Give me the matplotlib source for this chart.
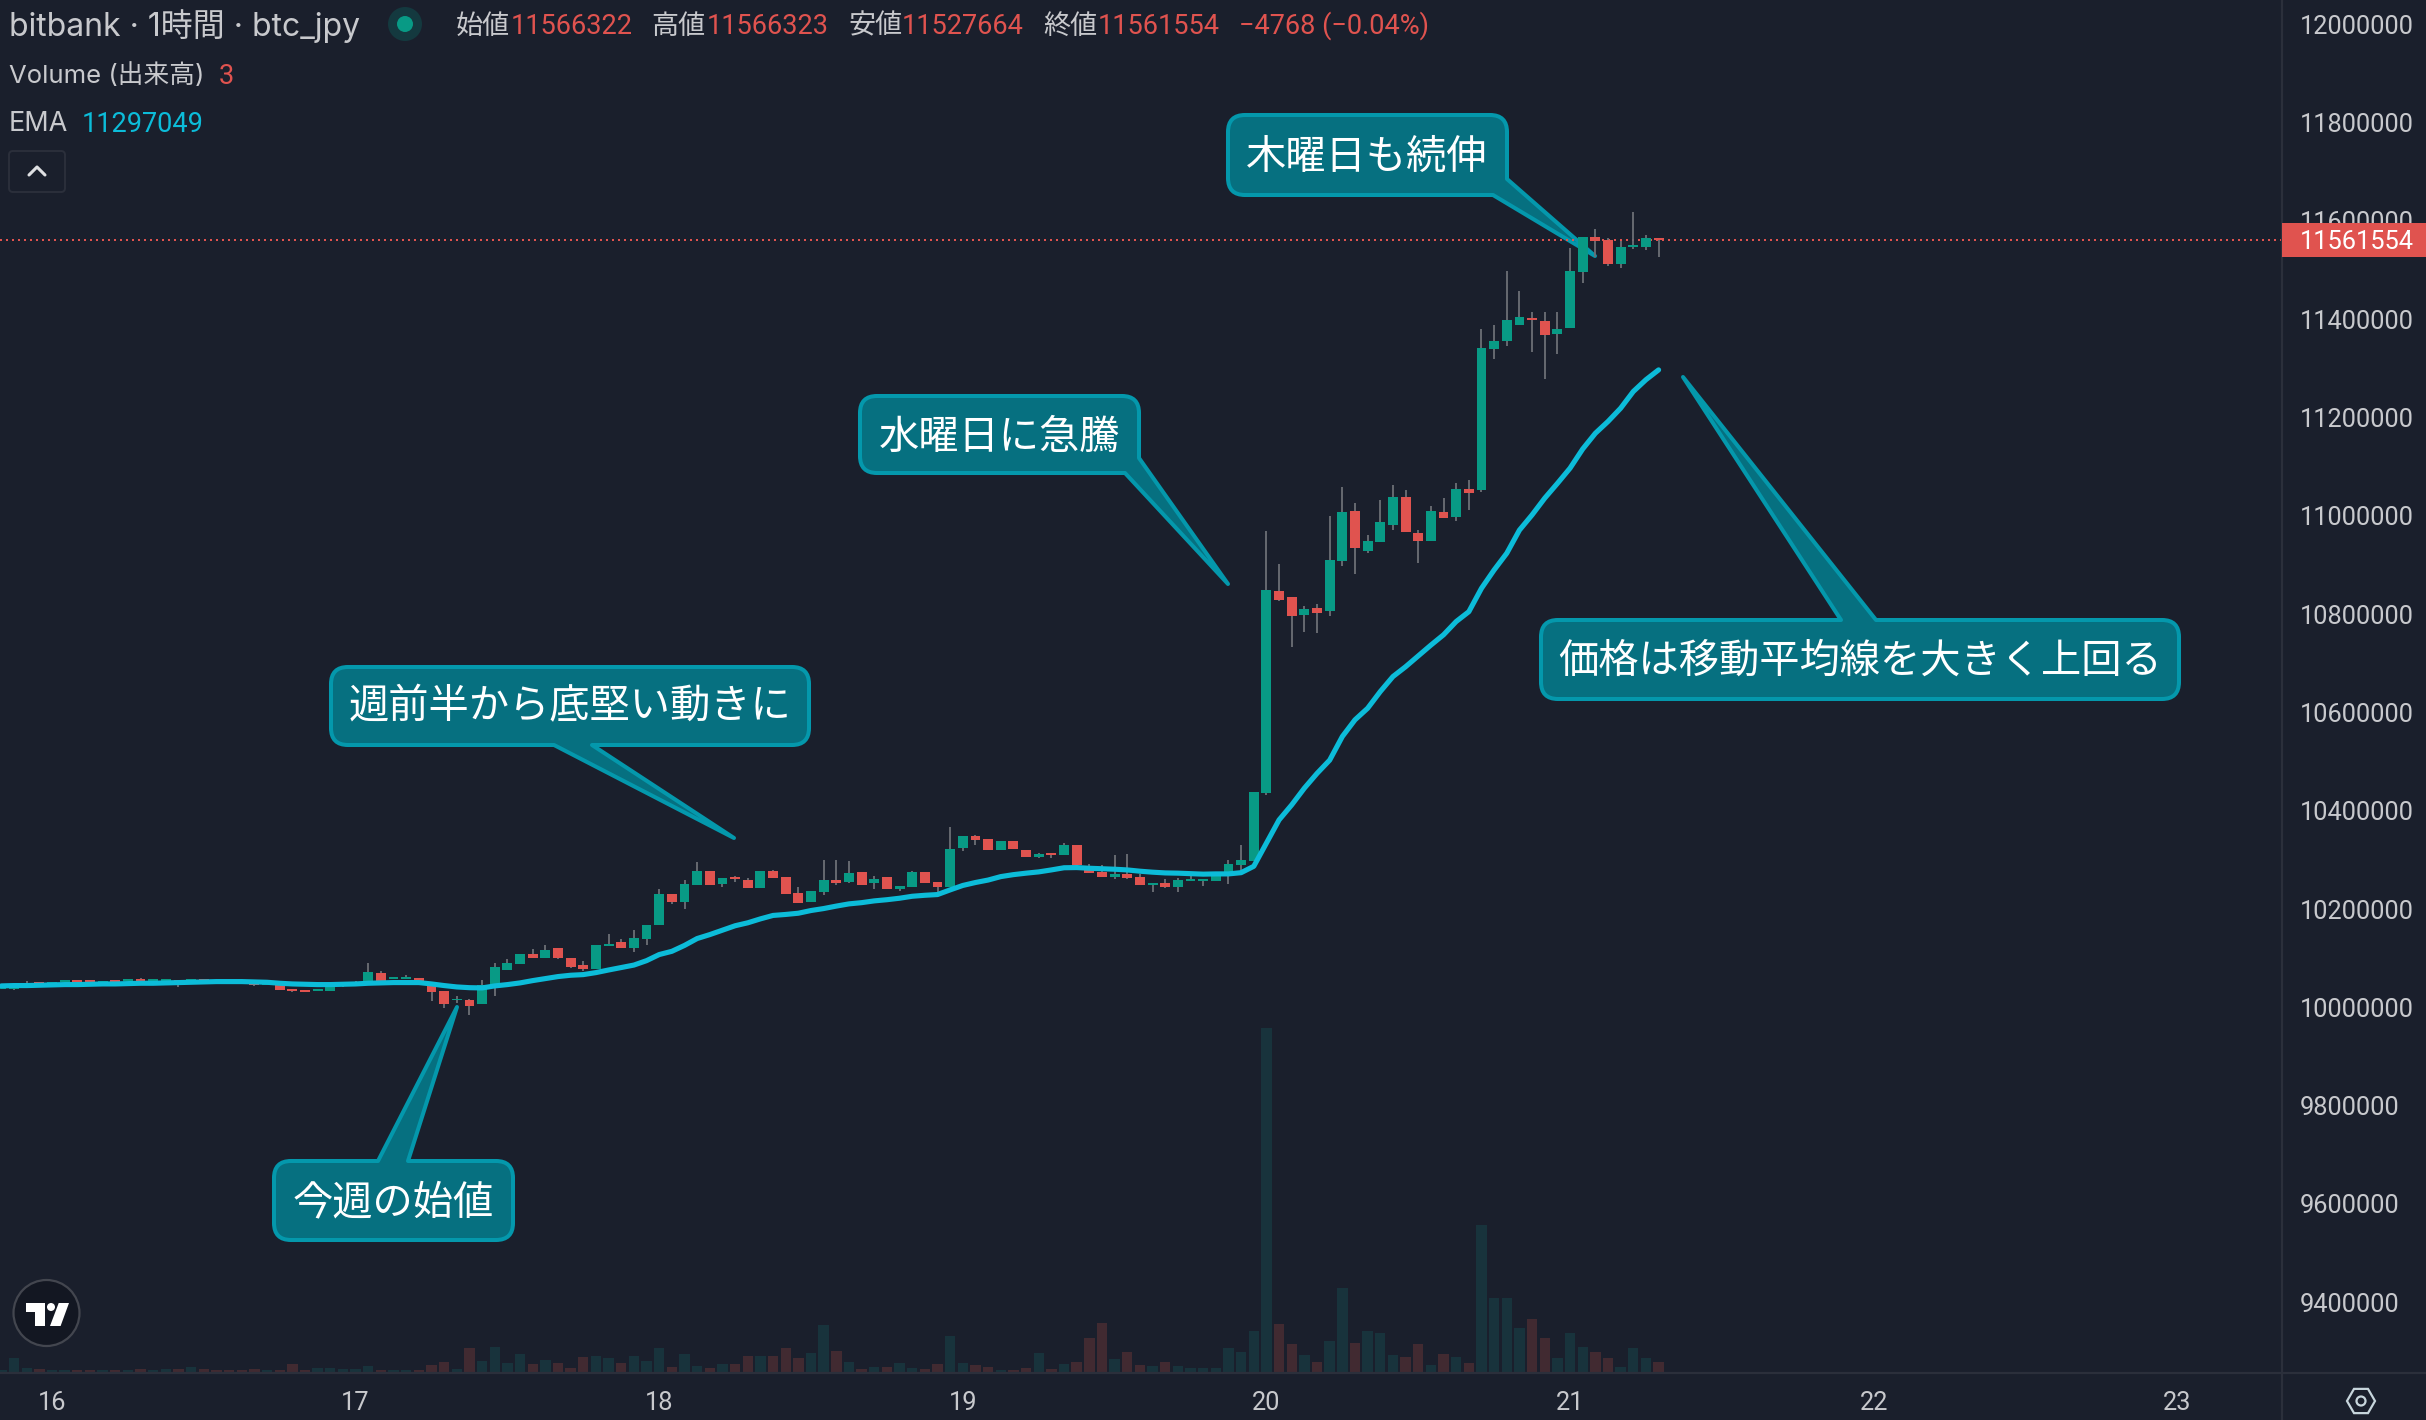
import numpy as np
import matplotlib
matplotlib.use('Agg')
import matplotlib.pyplot as plt
from matplotlib.patches import Rectangle, PathPatch, Ellipse, Polygon, RegularPolygon, FancyBboxPatch
from matplotlib.path import Path

plt.rcParams['font.family'] = ['Inter', 'Noto Sans CJK JP', 'DejaVu Sans']

# candles, thousand JPY, one per hour, first one is 4 hours before day 16
open_k = [
    10038, 10038, 10048.3, 10051, 10043.6, 10051.7, 10056, 10056, 10050.4, 10056,
    10054, 10057, 10054.4, 10054, 10056, 10049.7, 10058, 10056.5, 10056.5, 10051.7,
    10049, 10045.6, 10047.6, 10037.5, 10035.4, 10034, 10033.4, 10044, 10045.6, 10049.7,
    10070, 10058, 10058, 10060, 10045, 10033.4, 10014, 10015, 10007, 10043.6,
    10076, 10088.3, 10109, 10100.5, 10121, 10100.5, 10086.3, 10077.5, 10125, 10133,
    10121, 10139.2, 10167.7, 10230.8, 10214.5, 10249, 10277.6, 10251, 10265, 10259,
    10243, 10277.6, 10265, 10233, 10214.5, 10235, 10259, 10255, 10275.6, 10253,
    10265, 10241, 10245, 10275.6, 10255, 10245, 10324, 10349, 10343, 10320,
    10338.6, 10320, 10306, 10314, 10310, 10330.5, 10288, 10275.6, 10265, 10271.5,
    10265, 10249, 10253, 10245, 10257, 10257, 10257, 10269.5, 10290, 10298,
    10436, 10847, 10835, 10798, 10813, 10806.5, 10908, 11010, 10929, 10947,
    10981, 11038, 10965, 10949, 11008, 10998, 11055, 11053, 11340, 11356,
    11389, 11403, 11397, 11370, 11383, 11497, 11568, 11562, 11513, 11547,
    11547, 11566.3,
]
close_k = [
    10043.6, 10047.6, 10050.4, 10048.3, 10051, 10056, 10052.4, 10052.4, 10053, 10052.4,
    10058, 10054, 10058, 10058, 10045.6, 10057, 10054, 10052.4, 10052.4, 10048.3,
    10045.6, 10049.7, 10035.4, 10034, 10032, 10037.5, 10043.6, 10047.6, 10051.7, 10072,
    10052.4, 10062, 10062, 10047.6, 10031.4, 10007, 10017, 10003, 10045.6, 10082.2,
    10090.4, 10109, 10100.5, 10117, 10100.5, 10082.2, 10078, 10127, 10129, 10121,
    10141.2, 10167.6, 10230.8, 10214.5, 10251, 10277.6, 10249, 10263, 10261, 10243,
    10277.6, 10263, 10231, 10212.5, 10237, 10259, 10253, 10273.5, 10249, 10261,
    10241, 10247, 10275.6, 10253, 10245, 10322, 10349, 10341, 10320, 10338.6,
    10322, 10306, 10312, 10310, 10330.5, 10290, 10273.5, 10265, 10271.5, 10263,
    10249, 10253, 10245, 10259, 10261, 10261, 10271.5, 10292, 10300, 10438,
    10849, 10829, 10796, 10811, 10802, 10910, 11008, 10935, 10949, 10987.6,
    11038, 10967, 10949, 11010, 10996, 11055, 11046.5, 11342, 11356, 11399,
    11405, 11399, 11368, 11381, 11499, 11568, 11560, 11513, 11547, 11551.5,
    11566, 11561.6,
]
high_k = [
    10043.6, 10049.7, 10054, 10051, 10051, 10056, 10056, 10056, 10053, 10056,
    10058, 10059, 10058, 10058, 10056, 10057, 10058, 10056.5, 10056.5, 10051.7,
    10049, 10049.7, 10047.6, 10037.5, 10035.4, 10037.5, 10043.6, 10047.6, 10054, 10090.4,
    10074, 10062, 10066, 10060, 10049, 10033.4, 10023, 10017, 10056, 10090.4,
    10098.5, 10109, 10119, 10127, 10121, 10100.5, 10094.4, 10127, 10149.3, 10139.2,
    10157.5, 10167.6, 10241, 10230.8, 10259, 10296, 10277.6, 10263, 10267, 10263,
    10277.6, 10279.6, 10265, 10245, 10237, 10300, 10300, 10298, 10275.6, 10267,
    10265, 10247, 10277.6, 10275.6, 10255, 10367, 10349, 10351, 10343, 10338.6,
    10338.6, 10320, 10314, 10314, 10334.5, 10330.5, 10292, 10290, 10310, 10312,
    10271.5, 10253, 10261, 10263, 10276, 10261, 10271.5, 10300, 10330.5, 10438,
    10969, 10902, 10835, 10817, 10821, 11000, 11059, 11026, 10961, 11032,
    11063, 11053, 10971, 11020, 11036, 11067, 11073, 11381, 11389, 11499,
    11458, 11415, 11415, 11415, 11545, 11568, 11584, 11566, 11560, 11619,
    11572, 11566.3,
]
low_k = [
    10038, 10035.4, 10045.6, 10043.6, 10043.6, 10051.7, 10052.4, 10052.4, 10050.4, 10052.4,
    10054, 10054, 10054.4, 10054, 10042, 10049.7, 10054, 10052.4, 10052.4, 10048.3,
    10044, 10045.6, 10035.4, 10032, 10032, 10034, 10033.4, 10041, 10045.6, 10049.7,
    10052.4, 10058, 10058, 10047.6, 10012, 9999, 10009, 9984.6, 10007, 10023,
    10076, 10088.3, 10100.5, 10100.5, 10098.5, 10080, 10074, 10077.5, 10125, 10121,
    10113, 10127, 10167.7, 10210.5, 10200, 10249, 10249, 10245, 10255, 10243,
    10243, 10263, 10231, 10212.5, 10214.5, 10229, 10249, 10253, 10249, 10241,
    10241, 10237, 10245, 10253, 10227, 10245, 10318, 10330.5, 10320, 10320,
    10322, 10306, 10304, 10304, 10310, 10286, 10273.5, 10265, 10261, 10261,
    10249, 10235, 10243, 10235, 10257, 10247, 10257, 10251, 10273.5, 10298,
    10432, 10827, 10733, 10764, 10762, 10796, 10898, 10882, 10924.5, 10947,
    10971, 10967, 10904, 10949, 10996, 10990, 11012, 11049, 11320, 11346,
    11389, 11334, 11279, 11330, 11383, 11474, 11527, 11509, 11505, 11543,
    11541, 11527.7,
]
ema_k = [
    10043.6, 10044.3, 10044.3, 10045, 10045.6, 10046.3, 10046.3, 10047, 10047.6, 10047.6,
    10048.3, 10049, 10049, 10049.7, 10050.4, 10051, 10051.7, 10052.4, 10052.4, 10052.4,
    10051.7, 10051, 10049, 10047.6, 10047, 10046.3, 10046.3, 10047, 10047.6, 10049,
    10049.7, 10050.4, 10050.4, 10050.4, 10047.6, 10044.3, 10041.5, 10040, 10039.5, 10043.6,
    10046.3, 10049.7, 10054.4, 10058.5, 10062.6, 10065.3, 10066.6, 10070.7, 10076, 10081,
    10086, 10095, 10107.4, 10114, 10126, 10140, 10148, 10157, 10166, 10172,
    10180, 10187, 10189, 10191.5, 10197, 10201, 10206, 10210.5, 10213, 10216.6,
    10219, 10222, 10226, 10228, 10229.5, 10239, 10248, 10254, 10259, 10266,
    10270, 10273, 10275.6, 10279.6, 10284, 10284.4, 10283, 10282, 10281, 10279.6,
    10277, 10275, 10273.5, 10273, 10272, 10271, 10271.5, 10271.5, 10274, 10287,
    10334, 10381.4, 10412, 10446, 10476, 10503, 10551, 10585, 10608.5, 10642.5,
    10673, 10693, 10715, 10737, 10758, 10785, 10805, 10852.6, 10890, 10924,
    10971, 11002, 11036, 11066, 11097, 11136, 11168, 11192, 11219, 11253,
    11277, 11297,
]
volume = [
    0.6, 4.2, 1.2, 0.9, 0.6, 0.6, 0.6, 0.6, 0.6, 0.6,
    0.6, 0.9, 0.6, 0.9, 0.9, 1.5, 0.9, 0.6, 0.6, 0.6,
    0.9, 0.6, 0.6, 2.4, 0.6, 1.2, 1.2, 0.9, 0.9, 1.8,
    0.6, 0.6, 0.6, 0.6, 2.1, 3, 0.9, 7.2, 3.3, 7.5,
    2.7, 5.4, 2.4, 3.6, 2.7, 1.2, 4.5, 4.8, 4.2, 2.7,
    4.8, 3.3, 7.2, 1.5, 5.4, 1.8, 1.2, 2.4, 2.4, 4.8,
    4.8, 4.8, 7.2, 4.2, 5.7, 14.1, 6.3, 3, 0.9, 1.5,
    1.5, 2.7, 1.2, 0.9, 2.4, 10.8, 2.7, 2.1, 1.5, 0.6,
    0.6, 1.2, 5.7, 0.9, 2.4, 3, 10.2, 14.7, 3.9, 6,
    2.1, 1.8, 3, 1.8, 1.2, 1.2, 1.2, 7.2, 6, 12.3,
    103.2, 14.4, 8.4, 5.1, 3, 9.3, 25.2, 8.7, 12.3, 11.7,
    5.1, 4.5, 8.4, 2.1, 5.4, 4.5, 2.7, 44.1, 22.2, 22.2,
    13.2, 15.9, 10.2, 4.2, 11.7, 7.5, 6, 4.2, 1.5, 7.2,
    4.2, 3,
]
first_hour = -4
day_labels = ['16', '17', '18', '19', '20', '21', '22', '23']
price_ticks = [9400000 + 200000 * n for n in range(14)]
last_price = 11561554

BG = '#1a1f2c'
GRID = '#2b2f3b'
UP = '#089a85'
DOWN = '#e0534f'
UP_VOL = '#18333c'
DOWN_VOL = '#412a31'
WICK = '#6d6f76'
EMA = '#0cbcd9'
TEXT = '#c8c9cd'
BOX_FILL = '#067080'
BOX_EDGE = '#0498ac'
DIGITS = ['Roboto', 'Noto Sans CJK JP', 'DejaVu Sans']

W, H = 2426, 1420
PANE_R, PANE_B = 2282, 1373

# callout outlines in picture pixels, flag 1 = rounded corner
callouts = [
    ('木曜日も続伸', (1367, 157),
     [(1228, 115, 1), (1507, 115, 1), (1507, 179, 0), (1595, 256, 0), (1493, 195, 0), (1228, 195, 1)]),
    ('水曜日に急騰', (1000, 437),
     [(860, 396, 1), (1139, 396, 1), (1139, 458, 0), (1228, 584, 0), (1125, 473, 0), (860, 473, 1)]),
    ('週前半から底堅い動きに', (570, 707),
     [(331, 667, 1), (809, 667, 1), (809, 745, 1), (592, 745, 0), (734, 838, 0), (554, 745, 0), (331, 745, 1)]),
    ('今週の始値', (393, 1203),
     [(274, 1161, 1), (378, 1161, 0), (457, 1007, 0), (408, 1161, 0), (513, 1161, 1), (513, 1240, 1), (274, 1240, 1)]),
    ('価格は移動平均線を大きく上回る', (1860, 661),
     [(1541, 620, 1), (1841, 620, 0), (1683, 377, 0), (1876, 620, 0), (2179, 620, 1), (2179, 699, 1), (1541, 699, 1)]),
]


def rounded_outline(points, radius=17):
    verts, codes = [], []
    n = len(points)
    for k, (x, y, rounded) in enumerate(points):
        if not rounded:
            verts.append((x, y))
            codes.append(Path.LINETO)
            continue
        px, py, _ = points[k - 1]
        nx, ny, _ = points[(k + 1) % n]
        a = np.array([px - x, py - y], dtype=float)
        b = np.array([nx - x, ny - y], dtype=float)
        a = a / np.hypot(*a) * radius
        b = b / np.hypot(*b) * radius
        verts += [(x + a[0], y + a[1]), (x, y), (x + b[0], y + b[1])]
        codes += [Path.LINETO, Path.CURVE3, Path.CURVE3]
    codes[0] = Path.MOVETO
    verts.append(verts[0])
    codes.append(Path.CLOSEPOLY)
    return Path(verts, codes)


fig = plt.figure(figsize=(W / 100, H / 100), dpi=100, facecolor=BG)

# callouts sit behind the candles
back = fig.add_axes([0, 0, 1, 1], zorder=0)
back.set_xlim(0, W)
back.set_ylim(H, 0)
back.axis('off')

for label, (cx, cy), outline in callouts:
    back.add_patch(PathPatch(rounded_outline(outline), fc=BOX_FILL, ec=BOX_EDGE, lw=2.9, joinstyle='round'))
    back.text(cx, cy, label, color='white', fontsize=29, ha='center', va='center',
              family=['Noto Sans CJK JP', 'DejaVu Sans'])

# scale borders run on past the pane
back.plot([PANE_R, W], [PANE_B, PANE_B], color=GRID, lw=1.6)
back.plot([PANE_R, PANE_R], [PANE_B, H], color=GRID, lw=1.6)

# volume pane shares the same rectangle as the price pane
rect = [0, (H - PANE_B) / H, PANE_R / W, PANE_B / H]
hours = np.arange(first_hour, first_hour + len(open_k))
opens = np.array(open_k) * 1000
closes = np.array(close_k) * 1000
highs = np.array(high_k) * 1000
lows = np.array(low_k) * 1000
up = closes >= opens

xlim = (-4.11, 176.28)
ax_vol = fig.add_axes(rect, zorder=1)
ax_vol.patch.set_alpha(0)
ax_vol.bar(hours, volume, width=0.82, color=[UP_VOL if u else DOWN_VOL for u in up], linewidth=0)
ax_vol.set_xlim(*xlim)
ax_vol.set_ylim(-0.4, 412)
ax_vol.axis('off')

ax = fig.add_axes(rect, zorder=2)
ax.patch.set_alpha(0)
ax.vlines(hours, lows, highs, color=WICK, linewidth=1.3, zorder=2)
ax.bar(hours, np.abs(closes - opens), bottom=np.minimum(opens, closes), width=0.78,
       color=[UP if u else DOWN for u in up], linewidth=0, zorder=3)
ax.plot(hours, np.array(ema_k) * 1000, color=EMA, linewidth=3.7, solid_capstyle='round',
        solid_joinstyle='round', zorder=4)
ax.axhline(last_price, color=DOWN, linewidth=1.44, linestyle=(0, (1, 2)), zorder=1)

ax.set_xlim(*xlim)
ax.set_ylim(9256000, 12049600)
ax.set_xticks(np.arange(len(day_labels)) * 24, day_labels)
ax.set_yticks(price_ticks, [str(p) for p in price_ticks])
ax.yaxis.tick_right()
ax.tick_params(axis='y', length=0, pad=13, labelsize=18.3, labelcolor=TEXT)
ax.tick_params(axis='x', length=0, pad=13, labelsize=18.3, labelcolor=TEXT)
for lab in ax.get_xticklabels() + ax.get_yticklabels():
    lab.set_family(DIGITS)
for side in ['top', 'left']:
    ax.spines[side].set_visible(False)
for side in ['right', 'bottom']:
    ax.spines[side].set_color(GRID)
    ax.spines[side].set_linewidth(1.6)

# last price tag on the scale
tag_h = 34600
ax.add_patch(Rectangle((1.0, last_price - tag_h), (W - PANE_R) / PANE_R, tag_h * 2,
                       transform=ax.get_yaxis_transform(), fc=DOWN, ec='none', clip_on=False, zorder=5))
ax.text(1 + 18 / PANE_R, last_price, str(last_price), transform=ax.get_yaxis_transform(),
        color='white', fontsize=18.3, va='center_baseline', ha='left', zorder=6, family=DIGITS)

# legend rows, logo and small widgets on top
top = fig.add_axes([0, 0, 1, 1], zorder=3)
top.set_xlim(0, W)
top.set_ylim(H, 0)
top.axis('off')
top.patch.set_alpha(0)

top.text(9, 26, 'bitbank · 1時間 · btc_jpy', color=TEXT, fontsize=23, va='center')
top.add_patch(Ellipse((405, 24), 34, 34, fc='#14393f', ec='none'))
top.add_patch(Ellipse((405, 24), 16, 16, fc=UP, ec='none'))

ohlc_row = [(456, '始値', TEXT), (511, '11566322', DOWN), (651, '高値', TEXT), (707, '11566323', DOWN),
            (848, '安値', TEXT), (902, '11527664', DOWN), (1043, '終値', TEXT), (1098, '11561554', DOWN),
            (1239, '−4768 (−0.04%)', DOWN)]
for x, s, c in ohlc_row:
    top.text(x, 26, s, color=c, fontsize=19.5, va='center', family=DIGITS)

top.text(9, 76, 'Volume (出来高)', color=TEXT, fontsize=18.5, va='center')
top.text(219, 76, '3', color=DOWN, fontsize=19.5, va='center', family=DIGITS)
top.text(9, 124, 'EMA', color=TEXT, fontsize=19.5, va='center')
top.text(82, 124, '11297049', color=EMA, fontsize=19.5, va='center', family=DIGITS)

top.add_patch(FancyBboxPatch((9, 151), 56, 41, boxstyle='round,pad=0,rounding_size=4',
                             fc='none', ec=GRID, lw=1.4))
top.plot([29, 37, 45], [175, 167, 175], color='#dfe0e3', lw=2.2, solid_capstyle='round')

top.add_patch(Ellipse((46.5, 1313), 66, 66, fc='#131722', ec='#43464f', lw=1.6))
top.add_patch(Polygon([(25.5, 1303), (44.6, 1303), (44.6, 1326), (35, 1326), (35, 1312), (25.5, 1312)], fc='white'))
top.add_patch(Ellipse((51, 1307), 8, 8, fc='white', ec='none'))
top.add_patch(Polygon([(58.7, 1303), (69, 1303), (60.6, 1326), (50, 1326)], fc='white'))

top.add_patch(RegularPolygon((2361, 1401), 6, radius=14, orientation=np.pi / 6, fc='none', ec='#c7d5dc', lw=1.6))
top.add_patch(Ellipse((2361, 1401), 9, 9, fc='none', ec='#c7d5dc', lw=1.6))

fig.savefig('out.png', dpi=100, facecolor=BG)
